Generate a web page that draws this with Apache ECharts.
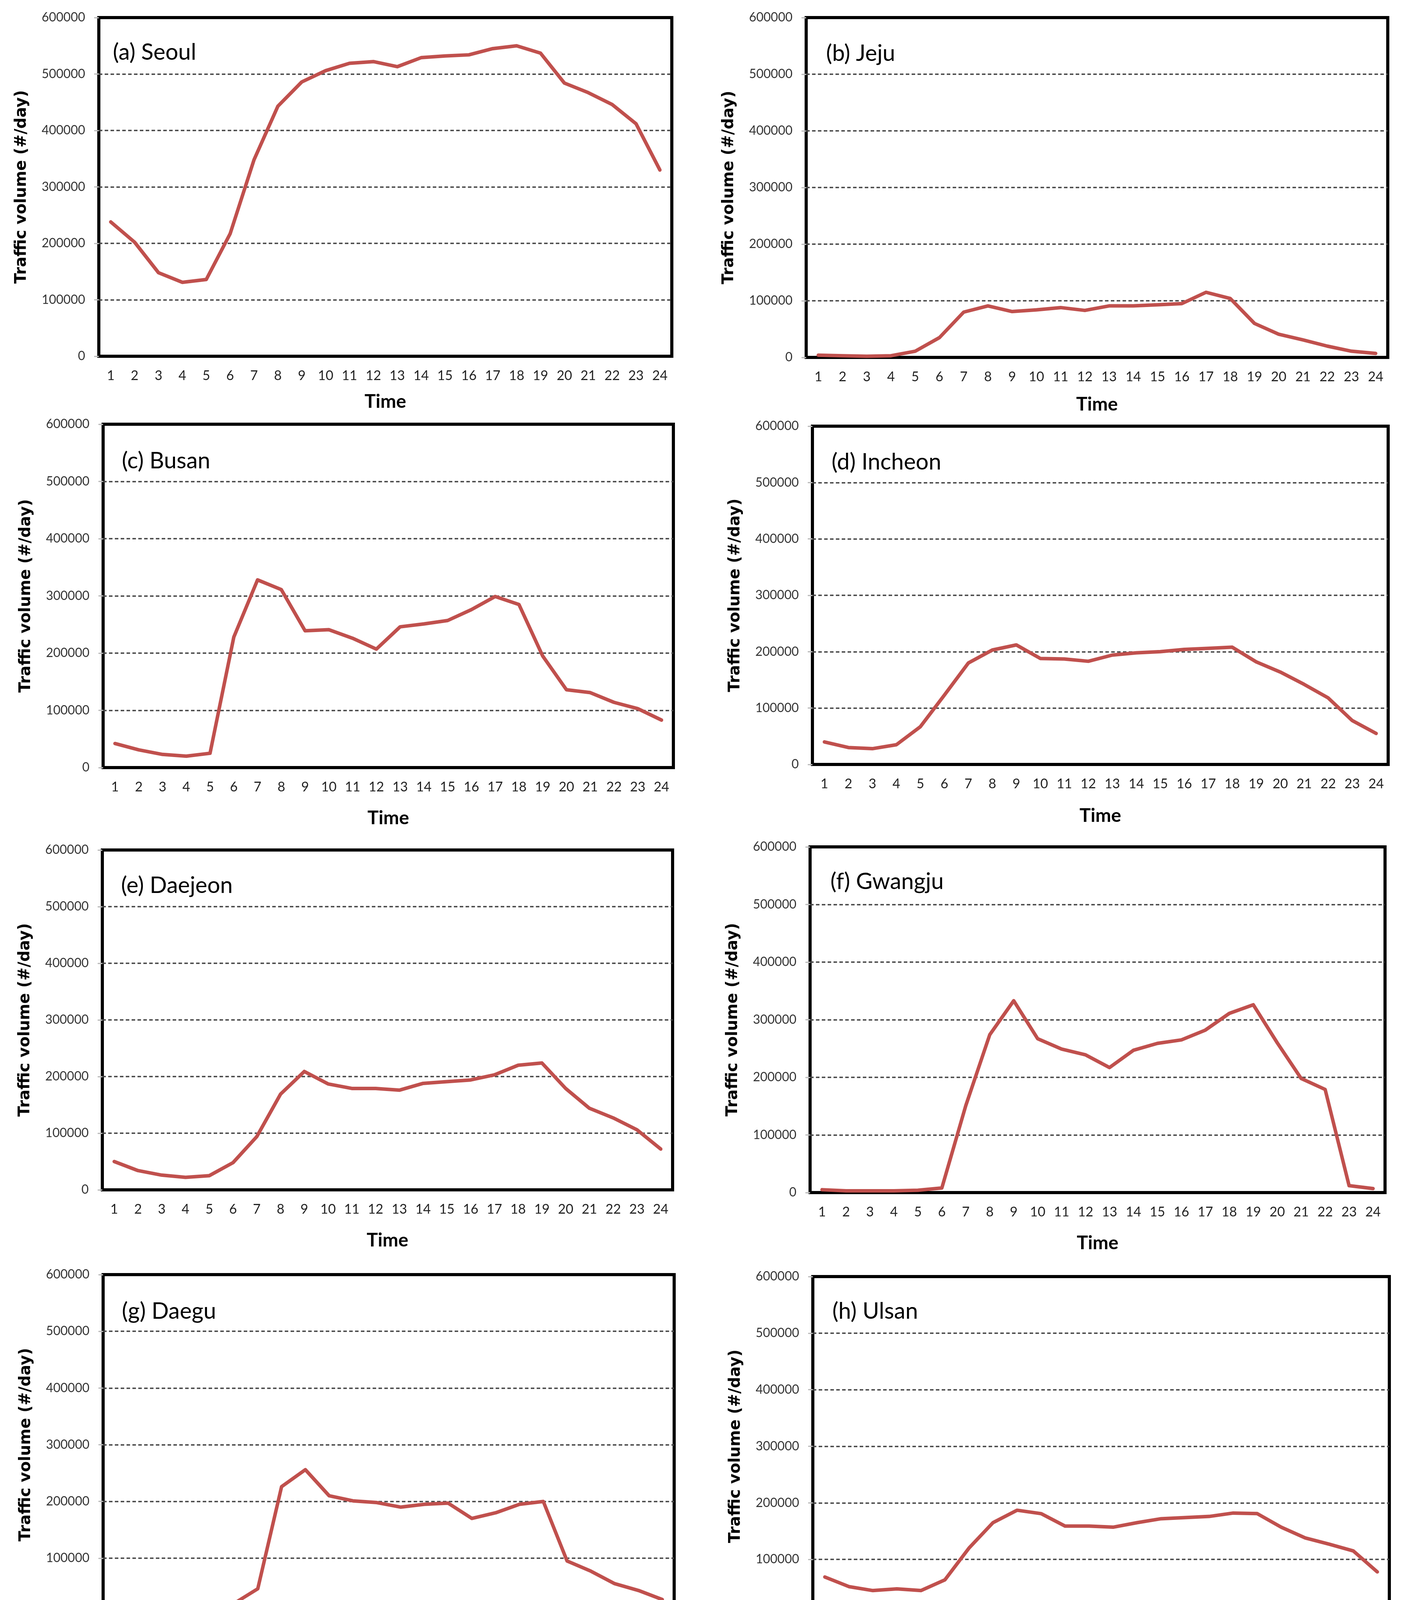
<!DOCTYPE html>
<html>
<head>
<meta charset="utf-8">
<script src="https://cdn.jsdelivr.net/npm/echarts@6/dist/echarts.min.js"></script>
<style>
html,body{margin:0;padding:0;background:#fff;overflow:hidden;}
#chart{width:3592px;height:4310px;}
</style>
</head>
<body>
<div id="chart"></div>
<script>
// ---- data ----
const hours = ['1','2','3','4','5','6','7','8','9','10','11','12','13','14','15','16','17','18','19','20','21','22','23','24'];
const yMin = 0, yMax = 600000, yStep = 100000;

const seoul   = [238000,202000,148000,131000,136000,217000,348000,443000,486000,506000,519000,522000,513000,529000,532000,534000,545000,550000,537000,484000,467000,446000,412000,330000];
const jeju    = [4000,3000,2000,3000,11000,35000,80000,91000,81000,84000,88000,83000,91000,91000,93000,95000,115000,104000,60000,41000,31000,20000,11000,7000];
const busan   = [42000,31000,23000,20000,25000,228000,328000,311000,239000,241000,226000,207000,246000,251000,257000,276000,299000,285000,195000,136000,131000,114000,103000,83000];
const incheon = [40000,30000,28000,35000,67000,123000,180000,203000,212000,188000,187000,183000,194000,198000,200000,204000,206000,208000,182000,164000,142000,118000,78000,55000];
const daejeon = [50000,34000,26000,22000,25000,48000,94000,169000,209000,187000,179000,179000,176000,188000,191000,194000,203000,220000,224000,179000,144000,127000,106000,72000];
const gwangju = [5000,3000,3000,3000,4000,8000,151000,274000,333000,267000,249000,239000,217000,247000,259000,265000,282000,311000,326000,260000,198000,179000,12000,7000];
const daegu   = [19000,11000,9000,8000,10000,20000,46000,226000,256000,210000,201000,198000,190000,195000,197000,170000,180000,195000,200000,95000,77000,55000,43000,27000];
const ulsan   = [69000,52000,45000,48000,45000,64000,120000,165000,187000,181000,159000,159000,157000,165000,172000,174000,176000,182000,181000,157000,138000,127000,115000,78000];

const panelTitles = ['(a) Seoul','(b) Jeju','(c) Busan','(d) Incheon','(e) Daejeon','(f) Gwangju','(g) Daegu','(h) Ulsan'];
const panelSeries = [seoul, jeju, busan, incheon, daejeon, gwangju, daegu, ulsan];
const xName = 'Time';
const yName = 'Traffic volume (#/day)';

// ---- layout (pixels) ----
const layout = [
  {l:253,  r:1720, t:45,   b:912,  tx:289,  ty:134,  tg:93},
  {l:2064, r:3553, t:45,   b:915,  tx:2115, ty:137,  tg:97},
  {l:264,  r:1724, t:1086, b:1965, tx:312,  ty:1180, tg:106},
  {l:2080, r:3554, t:1091, b:1957, tx:2129, ty:1183, tg:108},
  {l:262,  r:1722, t:2176, b:3046, tx:310,  ty:2267, tg:106},
  {l:2074, r:3546, t:2168, b:3053, tx:2126, ty:2257, tg:106},
  {l:264,  r:1726, t:3263, b:4134, tx:312,  ty:3357, tg:105},
  {l:2081, r:3557, t:3268, b:4137, tx:2131, ty:3357, tg:103}
];

const LINE_COLOR = '#C0504D';
const grids = [], xAxes = [], yAxes = [], series = [], titles = [];

panelTitles.forEach((name, i) => {
  const L = layout[i];
  grids.push({
    left: L.l, top: L.t, width: L.r - L.l, height: L.b - L.t,
    show: true, borderColor: '#000', borderWidth: 8, backgroundColor: 'rgba(0,0,0,0)',
    containLabel: false
  });
  xAxes.push({
    type: 'category', gridIndex: i, data: hours, boundaryGap: true,
    axisLine: {show: false}, axisTick: {show: false},
    axisLabel: {margin: 33, fontFamily: 'Lato', fontSize: 34, lineHeight: 34, color: '#222', interval: 0},
    splitLine: {show: false},
    name: xName, nameLocation: 'middle', nameGap: L.tg,
    nameTextStyle: {fontFamily: 'Lato', fontWeight: 'bold', fontSize: 48, lineHeight: 48, color: '#000'}
  });
  yAxes.push({
    type: 'value', gridIndex: i, min: yMin, max: yMax, interval: yStep,
    axisLine: {show: false},
    axisTick: {show: true, length: 12, lineStyle: {color: '#bbb', width: 3}},
    axisLabel: {margin: 35, fontFamily: 'Lato', fontSize: 32, color: '#333',
      formatter: v => String(v)},
    splitLine: {show: true, showMinLine: false, showMaxLine: false,
      lineStyle: {color: '#444', width: 3.5, type: [9, 6]}},
    name: yName, nameLocation: 'middle', nameGap: 177,
    nameTextStyle: {fontFamily: 'DejaVu Sans', fontWeight: 'bold', fontSize: 40, lineHeight: 40, color: '#000'}
  });
  series.push({
    type: 'line', xAxisIndex: i, yAxisIndex: i, data: panelSeries[i],
    symbol: 'none', smooth: false, z: 5,
    lineStyle: {color: LINE_COLOR, width: 9, cap: 'round', join: 'round'}
  });
  titles.push({
    text: name, left: L.tx, top: L.ty - 29, padding: 0,
    textStyle: {fontFamily: 'Lato', fontWeight: 'normal', fontSize: 58, lineHeight: 58, color: '#000'}
  });
});

const chart = echarts.init(document.getElementById('chart'), null, {renderer: 'canvas'});
chart.setOption({
  animation: false,
  backgroundColor: '#fff',
  title: titles,
  grid: grids,
  xAxis: xAxes,
  yAxis: yAxes,
  series: series
});
</script>
</body>
</html>
